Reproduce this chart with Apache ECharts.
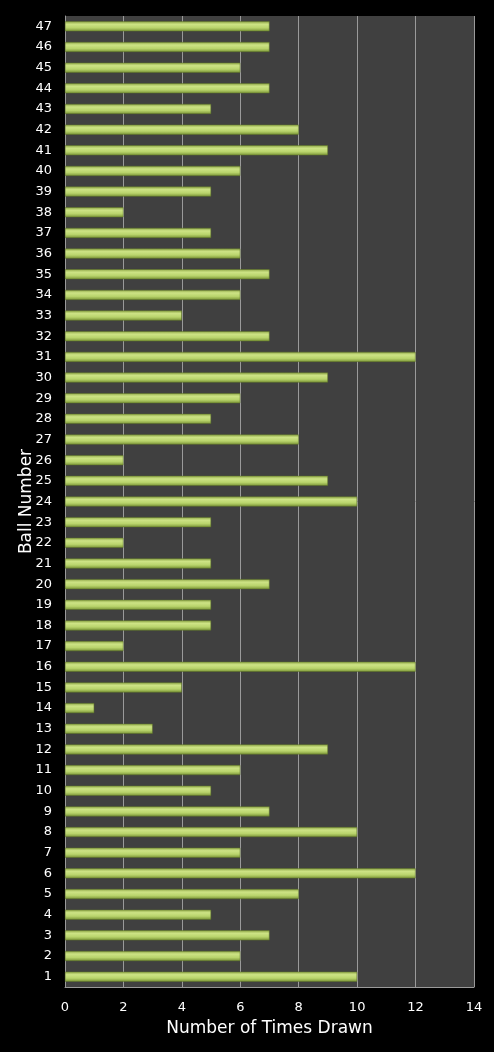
<!DOCTYPE html>
<html>
<head>
<meta charset="utf-8">
<script src="https://cdn.jsdelivr.net/npm/echarts@6/dist/echarts.min.js"></script>
<style>
html,body{margin:0;padding:0;background:#000;}
#chart{width:494px;height:1052px;}
</style>
</head>
<body>
<div id="chart"></div>
<script>
var ballNumbers = [];
for (var i = 1; i <= 47; i++) ballNumbers.push(String(i));
var timesDrawn = [10,6,7,5,8,12,6,10,7,5,6,9,3,1,4,12,2,5,5,7,5,2,5,10,9,2,8,5,6,9,12,7,4,6,7,6,5,2,5,6,9,8,5,7,6,7,7];
var xTicks = [0,2,4,6,8,10,12,14];

var chart = echarts.init(document.getElementById('chart'));
chart.setOption({
  backgroundColor: '#000000',
  animation: false,
  grid: {left: 65, right: 20, top: 16, bottom: 65, show: true, backgroundColor: '#404040', borderWidth: 0},
  xAxis: {
    type: 'value', min: xTicks[0], max: xTicks[xTicks.length-1], interval: 2,
    name: 'Number of Times Drawn', nameLocation: 'middle', nameGap: 33,
    nameTextStyle: {color: '#ffffff', fontSize: 17, fontFamily: 'DejaVu Sans'},
    axisLine: {show: true, lineStyle: {color: '#9a9a9a'}},
    axisTick: {show: false},
    axisLabel: {color: '#ffffff', fontSize: 13, fontFamily: 'DejaVu Sans', margin: 14},
    splitLine: {show: true, lineStyle: {color: '#9a9a9a', width: 1}}
  },
  yAxis: {
    type: 'category', data: ballNumbers,
    name: 'Ball Number', nameLocation: 'middle', nameGap: 30, nameRotate: 90,
    nameMoveOverlap: false,
    nameTextStyle: {color: '#ffffff', fontSize: 17, fontFamily: 'DejaVu Sans'},
    axisLine: {show: true, lineStyle: {color: '#9a9a9a'}},
    axisTick: {show: false},
    axisLabel: {color: '#ffffff', fontSize: 13, fontFamily: 'DejaVu Sans', margin: 13, interval: 0},
    splitLine: {show: false}
  },
  series: [{
    type: 'bar', data: timesDrawn, barWidth: 10,
    itemStyle: {
      color: new echarts.graphic.LinearGradient(0, 0, 0, 1, [
        {offset: 0, color: '#8ea646'},
        {offset: 0.3, color: '#cde385'},
        {offset: 0.65, color: '#b9d46c'},
        {offset: 1, color: '#7a9436'}
      ]),
      borderColor: '#5f7528', borderWidth: 0.5
    }
  }]
});
</script>
</body>
</html>
